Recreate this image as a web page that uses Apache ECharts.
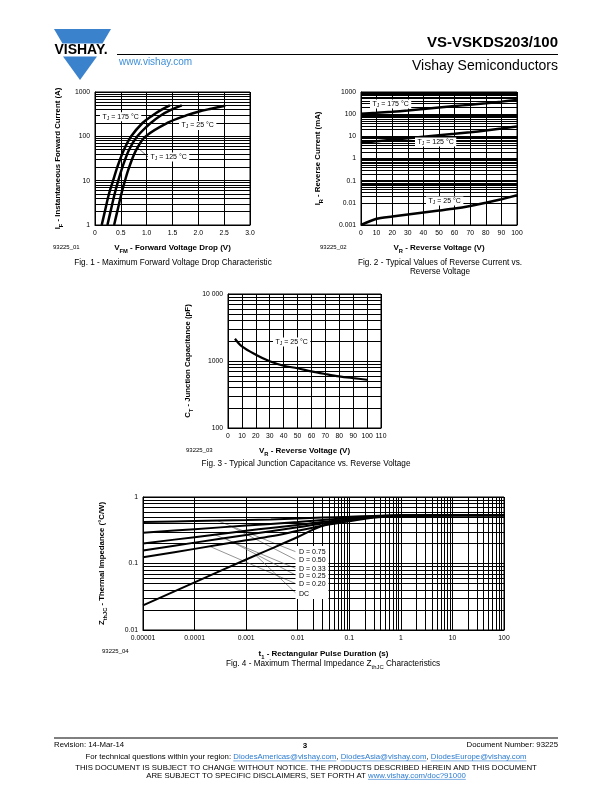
<!DOCTYPE html>
<html><head><meta charset="utf-8">
<script src="https://cdn.jsdelivr.net/npm/echarts@6/dist/echarts.min.js"></script>
<style>html,body{margin:0;padding:0;background:#fff}#c{width:612px;height:792px}</style>
</head><body><div id="c"></div>
<script>
// ---------- DATA ----------
// Fig. 1 : forward current (A) vs forward voltage drop (V)
const fig1Current = [1, 2, 5, 10, 20, 50, 100, 200, 300, 400, 500];
const fig1V175 = [0.13, 0.19, 0.27, 0.35, 0.43, 0.56, 0.70, 0.92, 1.12, 1.29, 1.45];
const fig1V125 = [0.24, 0.30, 0.38, 0.45, 0.53, 0.66, 0.82, 1.08, 1.28, 1.48, 1.68];
const fig1Current25 = [1, 2, 5, 10, 20, 50, 100, 200, 300, 360, 420, 490];
const fig1V25 = [0.37, 0.43, 0.51, 0.58, 0.66, 0.80, 0.98, 1.40, 1.78, 2.00, 2.25, 2.52];
const fig1XTicks = ['0', '0.5', '1.0', '1.5', '2.0', '2.5', '3.0'];
const fig1YTicks = ['1', '10', '100', '1000'];

// Fig. 2 : reverse current (mA) vs reverse voltage (V)
const fig2Voltage = [0, 10, 20, 30, 40, 50, 60, 70, 80, 90, 100];
const fig2I175 = [105, 115, 128, 145, 170, 200, 232, 268, 312, 368, 440];
const fig2I125 = [5.0, 6.0, 7.0, 8.2, 9.6, 11.2, 13.0, 15.3, 18.3, 22.5, 28];
const fig2I25 = [0.0010, 0.0019, 0.0024, 0.0030, 0.0037, 0.0045, 0.0055, 0.0072, 0.010, 0.0145, 0.022];
const fig2XTicks = ['0', '10', '20', '30', '40', '50', '60', '70', '80', '90', '100'];
const fig2YTicks = ['0.001', '0.01', '0.1', '1', '10', '100', '1000'];

// Fig. 3 : junction capacitance (pF) vs reverse voltage (V)
const fig3Voltage = [5, 10, 20, 30, 40, 50, 60, 70, 80, 90, 100];
const fig3Cap = [2150, 1650, 1240, 990, 850, 780, 700, 640, 590, 555, 525];
const fig3XTicks = ['0', '10', '20', '30', '40', '50', '60', '70', '80', '90', '100', '110'];
const fig3YTicks = ['100', '1000', '10 000'];

// Fig. 4 : thermal impedance (°C/W) vs pulse duration (s)
const fig4Time = [0.00001, 0.0001, 0.001, 0.003, 0.01, 0.03, 0.1, 0.3, 1, 10, 100];
const fig4D075 = [0.42, 0.435, 0.45, 0.46, 0.475, 0.49, 0.505, 0.52, 0.53, 0.53, 0.53];
const fig4D050 = [0.29, 0.328, 0.372, 0.394, 0.42, 0.45, 0.48, 0.51, 0.525, 0.53, 0.53];
const fig4D033 = [0.20, 0.249, 0.31, 0.343, 0.38, 0.42, 0.46, 0.50, 0.525, 0.53, 0.53];
const fig4D025 = [0.157, 0.206, 0.269, 0.305, 0.35, 0.40, 0.45, 0.495, 0.525, 0.53, 0.53];
const fig4D020 = [0.124, 0.166, 0.223, 0.256, 0.31, 0.37, 0.43, 0.49, 0.52, 0.53, 0.53];
const fig4DC = [0.0235, 0.052, 0.115, 0.166, 0.25, 0.37, 0.46, 0.50, 0.52, 0.53, 0.53];
const fig4Labels = ['D = 0.75', 'D = 0.50', 'D = 0.33', 'D = 0.25', 'D = 0.20', 'DC'];
// leader lines: [start t, start Z] on curve -> [end t, end Z] at label
const fig4LeaderStart = [[0.00028, 0.44], [0.00053, 0.355], [0.00025, 0.27], [0.00039, 0.24], [0.0002, 0.18], [0.0015, 0.135]];
const fig4LeaderEnd = [[0.0092, 0.150], [0.0092, 0.1136], [0.0092, 0.0841], [0.0092, 0.0668], [0.0092, 0.0497], [0.0092, 0.0359]];
const fig4XTicks = ['0.00001', '0.0001', '0.001', '0.01', '0.1', '1', '10', '100'];
const fig4YTicks = ['0.01', '0.1', '1'];

// ---------- HELPERS ----------
const FONT = '"Liberation Sans", Arial, Helvetica, sans-serif';
const zip = (a, b) => a.map((v, i) => [v, b[i]]);

function minorLogValues(lo, hi) {
  const out = [];
  for (let e = lo; e < hi; e++) for (let m = 2; m <= 9; m++) out.push(+(m * Math.pow(10, e)).toPrecision(4));
  return out;
}
function linFmt(labels, min, step) {
  return v => labels[Math.round((v - min) / step)] || '';
}
function logFmt(labels, minExp) {
  return v => labels[Math.round(Math.log10(v)) - minExp] || '';
}
function richAxis(size) {
  return {
    n: {fontSize: size, fontFamily: FONT, fontWeight: 'bold', color: '#000', lineHeight: size + 4},
    s: {fontSize: size * 0.72, fontFamily: FONT, fontWeight: 'bold', color: '#000', lineHeight: size * 0.72, verticalAlign: 'bottom'}
  };
}
function richG(size, bold, lh) {
  const w = bold ? 'bold' : 'normal';
  return {
    n: {fontSize: size, fontFamily: FONT, fontWeight: w, fill: '#000', lineHeight: lh || size + 4},
    s: {fontSize: size * 0.72, fontFamily: FONT, fontWeight: w, fill: '#000', lineHeight: size * 0.72, verticalAlign: 'bottom'}
  };
}
function axisCommon(extra) {
  return Object.assign({
    axisLine: {show: true, onZero: false, lineStyle: {color: '#000', width: 1}},
    axisTick: {show: false},
    splitLine: {show: true, lineStyle: {color: '#000', width: 1}},
    minorTick: {show: false}, minorSplitLine: {show: false},
    nameLocation: 'middle'
  }, extra);
}
function lblStyle(fmt, margin) {
  return {color: '#000', fontSize: 6.8, fontFamily: FONT, margin: margin, interval: 0, showMinLabel: true, showMaxLabel: true, formatter: fmt};
}
function gridSeries(idx, data, xMinor, yMinor) {
  return {
    type: 'line', xAxisIndex: idx, yAxisIndex: idx, data: data, showSymbol: false, silent: true, z: 1,
    lineStyle: {opacity: 0}, animation: false,
    markLine: {
      silent: true, symbol: ['none', 'none'], label: {show: false}, animation: false,
      lineStyle: {color: '#000', width: 1, type: 'solid'}, emphasis: {disabled: true},
      data: [...xMinor.map(v => ({xAxis: v})), ...yMinor.map(v => ({yAxis: v}))]
    }
  };
}
function curve(idx, data, w, sm) {
  return {type: 'line', xAxisIndex: idx, yAxisIndex: idx, data: data, showSymbol: false, smooth: sm == null ? 0.35 : sm,
    silent: true, z: 5, animation: false, lineStyle: {color: '#000', width: w || 2.5}};
}
function leader(idx, a, b, c) {
  return {type: 'line', xAxisIndex: idx, yAxisIndex: idx, data: [a, b], showSymbol: false, silent: true, z: 4,
    animation: false, lineStyle: {color: c || '#666', width: 0.7}};
}
function gText(x, y, text, o) {
  o = o || {};
  const st = {text: text, fill: o.color || '#000', fontSize: o.size || 7, fontFamily: FONT,
    fontWeight: o.bold ? 'bold' : 'normal', align: o.align || 'left', verticalAlign: 'middle'};
  if (o.rich) st.rich = o.rich;
  if (o.bg) { st.backgroundColor = '#fff'; st.padding = o.pad || [1, 2]; }
  return {type: 'text', x: x, y: y, z: o.z || 100, silent: true, style: st};
}
const measureCtx = document.createElement('canvas').getContext('2d');
function textWidth(t, size, bold) {
  measureCtx.font = (bold ? 'bold ' : '') + size + 'px ' + FONT;
  return measureCtx.measureText(t).width;
}
function textRun(cx, y, pieces, size, out) {
  const widths = pieces.map(p => textWidth(p.t, size));
  const total = widths.reduce((a, b) => a + b, 0);
  let x = cx - total / 2;
  pieces.forEach((p, i) => {
    out.push(gText(x, y, p.t, {size: size, color: p.link ? '#2b7bd0' : '#000'}));
    if (p.link) out.push({type: 'line', z: 100, silent: true, shape: {x1: x, y1: y + size * 0.5, x2: x + widths[i], y2: y + size * 0.5},
      style: {stroke: '#2b7bd0', lineWidth: 0.6}});
    x += widths[i];
  });
}

// ---------- CHART ----------
const chart = echarts.init(document.getElementById('c'), null, {renderer: 'canvas', width: 612, height: 792});

const grids = [
  {left: 95, top: 92, width: 155, height: 133},
  {left: 361, top: 92, width: 156, height: 133},
  {left: 228, top: 294, width: 153, height: 134},
  {left: 143, top: 497, width: 361, height: 133}
].map(g => Object.assign(g, {show: true, borderColor: '#000', borderWidth: 1, backgroundColor: 'transparent', containLabel: false}));

const xAxes = [
  axisCommon({type: 'value', gridIndex: 0, min: 0, max: 3, interval: 0.5,
    axisLabel: lblStyle(linFmt(fig1XTicks, 0, 0.5), 5),
    name: '{n|V}{s|FM}{n| - Forward Voltage Drop (V)}', nameGap: 17, nameTextStyle: {rich: richAxis(8)}}),
  axisCommon({type: 'value', gridIndex: 1, min: 0, max: 100, interval: 10,
    axisLabel: lblStyle(linFmt(fig2XTicks, 0, 10), 5),
    name: '{n|V}{s|R}{n| - Reverse Voltage (V)}', nameGap: 17, nameTextStyle: {rich: richAxis(8)}}),
  axisCommon({type: 'value', gridIndex: 2, min: 0, max: 110, interval: 10,
    axisLabel: lblStyle(linFmt(fig3XTicks, 0, 10), 5),
    name: '{n|V}{s|R}{n| - Reverse Voltage (V)}', nameGap: 17, nameTextStyle: {rich: richAxis(8)}}),
  axisCommon({type: 'log', gridIndex: 3, min: 0.00001, max: 100, logBase: 10,
    axisLabel: lblStyle(logFmt(fig4XTicks, -5), 5),
    name: '{n|t}{s|1}{n| - Rectangular Pulse Duration (s)}', nameGap: 18, nameTextStyle: {rich: richAxis(8)}})
];
const yAxes = [
  axisCommon({type: 'log', gridIndex: 0, min: 1, max: 1000, logBase: 10,
    axisLabel: lblStyle(logFmt(fig1YTicks, 0), 5),
    name: '{n|I}{s|F}{n| - Instantaneous Forward Current (A)}', nameGap: 31, nameRotate: 90, nameTextStyle: {rich: richAxis(7.8)}}),
  axisCommon({type: 'log', gridIndex: 1, min: 0.001, max: 1000, logBase: 10,
    axisLabel: lblStyle(logFmt(fig2YTicks, -3), 5),
    name: '{n|I}{s|R}{n| - Reverse Current (mA)}', nameGap: 37, nameRotate: 90, nameTextStyle: {rich: richAxis(7.8)}}),
  axisCommon({type: 'log', gridIndex: 2, min: 100, max: 10000, logBase: 10,
    axisLabel: lblStyle(logFmt(fig3YTicks, 2), 5),
    name: '{n|C}{s|T}{n| - Junction Capacitance (pF)}', nameGap: 34, nameRotate: 90, nameTextStyle: {rich: richAxis(7.8)}}),
  axisCommon({type: 'log', gridIndex: 3, min: 0.01, max: 1, logBase: 10,
    axisLabel: lblStyle(logFmt(fig4YTicks, -2), 5),
    name: '{n|Z}{s|thJC}{n| - Thermal Impedance (°C/W)}', nameGap: 35, nameRotate: 90, nameTextStyle: {rich: richAxis(7.8)}})
];

const f1a = zip(fig1V175, fig1Current), f1b = zip(fig1V125, fig1Current), f1c = zip(fig1V25, fig1Current25);
const series = [
  gridSeries(0, f1a, [], minorLogValues(0, 3)),
  curve(0, f1a), curve(0, f1b), curve(0, f1c),
  leader(0, [0.83, 55], [1.03, 34], '#333'),
  gridSeries(1, zip(fig2Voltage, fig2I175), [], minorLogValues(-3, 3)),
  curve(1, zip(fig2Voltage, fig2I175), 2.5, 0.2), curve(1, zip(fig2Voltage, fig2I125), 2.5, 0.2), curve(1, zip(fig2Voltage, fig2I25), 2.5, 0.2),
  gridSeries(2, zip(fig3Voltage, fig3Cap), [], minorLogValues(2, 4)),
  curve(2, zip(fig3Voltage, fig3Cap), 2.2),
  gridSeries(3, zip(fig4Time, fig4D075), minorLogValues(-5, 2), minorLogValues(-2, 0)),
  curve(3, zip(fig4Time, fig4D075), 2), curve(3, zip(fig4Time, fig4D050), 2), curve(3, zip(fig4Time, fig4D033), 2),
  curve(3, zip(fig4Time, fig4D025), 2), curve(3, zip(fig4Time, fig4D020), 2), curve(3, zip(fig4Time, fig4DC), 2)
];
fig4LeaderStart.forEach((s, i) => series.push(leader(3, s, fig4LeaderEnd[i])));

// ---------- TEXT / DECOR ----------
const g = [];
const r7 = richG(7, false, 8), r8 = richG(8.2, false);
const box = [0.5, 2.5];
// header logo
g.push({type: 'polygon', z: 100, silent: true, shape: {points: [[54, 29], [111, 29], [102.5, 43.5], [62.5, 43.5]]}, style: {fill: '#3b82cc'}});
g.push({type: 'polygon', z: 100, silent: true, shape: {points: [[63, 56.5], [97, 56.5], [80, 80]]}, style: {fill: '#3b82cc'}});
g.push(gText(81, 50.2, 'VISHAY.', {size: 14, bold: true, align: 'center'}));
g.push(gText(119, 62.5, 'www.vishay.com', {size: 10, color: '#3d8fd8'}));
g.push({type: 'line', z: 100, silent: true, shape: {x1: 117, y1: 54.5, x2: 558, y2: 54.5}, style: {stroke: '#000', lineWidth: 1}});
g.push(gText(558, 42.5, 'VS-VSKDS203/100', {size: 15, bold: true, align: 'right'}));
g.push(gText(558, 66, 'Vishay Semiconductors', {size: 14, align: 'right'}));

// Fig 1 annotations
g.push(gText(100, 116.7, '{n|T}{s|J}{n| = 175 °C}', {rich: r7, bg: true, pad: box}));
g.push(gText(179, 125.5, '{n|T}{s|J}{n| = 25 °C}', {rich: r7, bg: true, pad: box}));
g.push(gText(148, 157, '{n|T}{s|J}{n| = 125 °C}', {rich: r7, bg: true, pad: box}));
g.push(gText(53, 247, '93225_01', {size: 6}));
g.push(gText(173, 263, 'Fig. 1 - Maximum Forward Voltage Drop Characteristic', {size: 8.2, align: 'center'}));

// Fig 2 annotations
g.push(gText(370, 104, '{n|T}{s|J}{n| = 175 °C}', {rich: r7, bg: true, pad: box}));
g.push(gText(415, 142, '{n|T}{s|J}{n| = 125 °C}', {rich: r7, bg: true, pad: box}));
g.push(gText(426, 201, '{n|T}{s|J}{n| = 25 °C}', {rich: r7, bg: true, pad: box}));
g.push(gText(320, 247, '93225_02', {size: 6}));
g.push(gText(440, 263, 'Fig. 2 - Typical Values of Reverse Current vs.', {size: 8.2, align: 'center'}));
g.push(gText(440, 272, 'Reverse Voltage', {size: 8.2, align: 'center'}));

// Fig 3 annotations
g.push(gText(273, 342, '{n|T}{s|J}{n| = 25 °C}', {rich: r7, bg: true, pad: box}));
g.push(gText(186, 450, '93225_03', {size: 6}));
g.push(gText(306, 464, 'Fig. 3 - Typical Junction Capacitance vs. Reverse Voltage', {size: 8.2, align: 'center'}));

// Fig 4 annotations
g.push({type: 'rect', z: 90, silent: true, shape: {x: 295.5, y: 546, width: 33, height: 53}, style: {fill: '#fff'}});
const f4y = [552.3, 560.3, 569, 575.7, 584.3, 593.7];
fig4Labels.forEach((t, i) => g.push(gText(299, f4y[i], t, {size: 7})));
g.push(gText(102, 651, '93225_04', {size: 6}));
g.push(gText(333, 664, '{n|Fig. 4 - Maximum Thermal Impedance Z}{s|thJC}{n| Characteristics}', {rich: r8, align: 'center'}));

// footer
const FS = 7.8;
g.push({type: 'line', z: 100, silent: true, shape: {x1: 54, y1: 738, x2: 558, y2: 738}, style: {stroke: '#000', lineWidth: 1}});
g.push(gText(54, 745, 'Revision: 14-Mar-14', {size: FS}));
g.push(gText(305, 745.5, '3', {size: 8, bold: true, align: 'center'}));
g.push(gText(558, 745, 'Document Number: 93225', {size: FS, align: 'right'}));
textRun(306, 757, [
  {t: 'For technical questions within your region: '}, {t: 'DiodesAmericas@vishay.com', link: true}, {t: ', '},
  {t: 'DiodesAsia@vishay.com', link: true}, {t: ', '}, {t: 'DiodesEurope@vishay.com', link: true}
], FS, g);
g.push(gText(306, 767.5, 'THIS DOCUMENT IS SUBJECT TO CHANGE WITHOUT NOTICE. THE PRODUCTS DESCRIBED HEREIN AND THIS DOCUMENT', {size: FS, align: 'center'}));
textRun(306, 775.5, [{t: 'ARE SUBJECT TO SPECIFIC DISCLAIMERS, SET FORTH AT '}, {t: 'www.vishay.com/doc?91000', link: true}], FS, g);

chart.setOption({
  animation: false,
  backgroundColor: '#fff',
  grid: grids,
  xAxis: xAxes,
  yAxis: yAxes,
  series: series,
  graphic: {elements: g}
});
</script>
</body></html>
